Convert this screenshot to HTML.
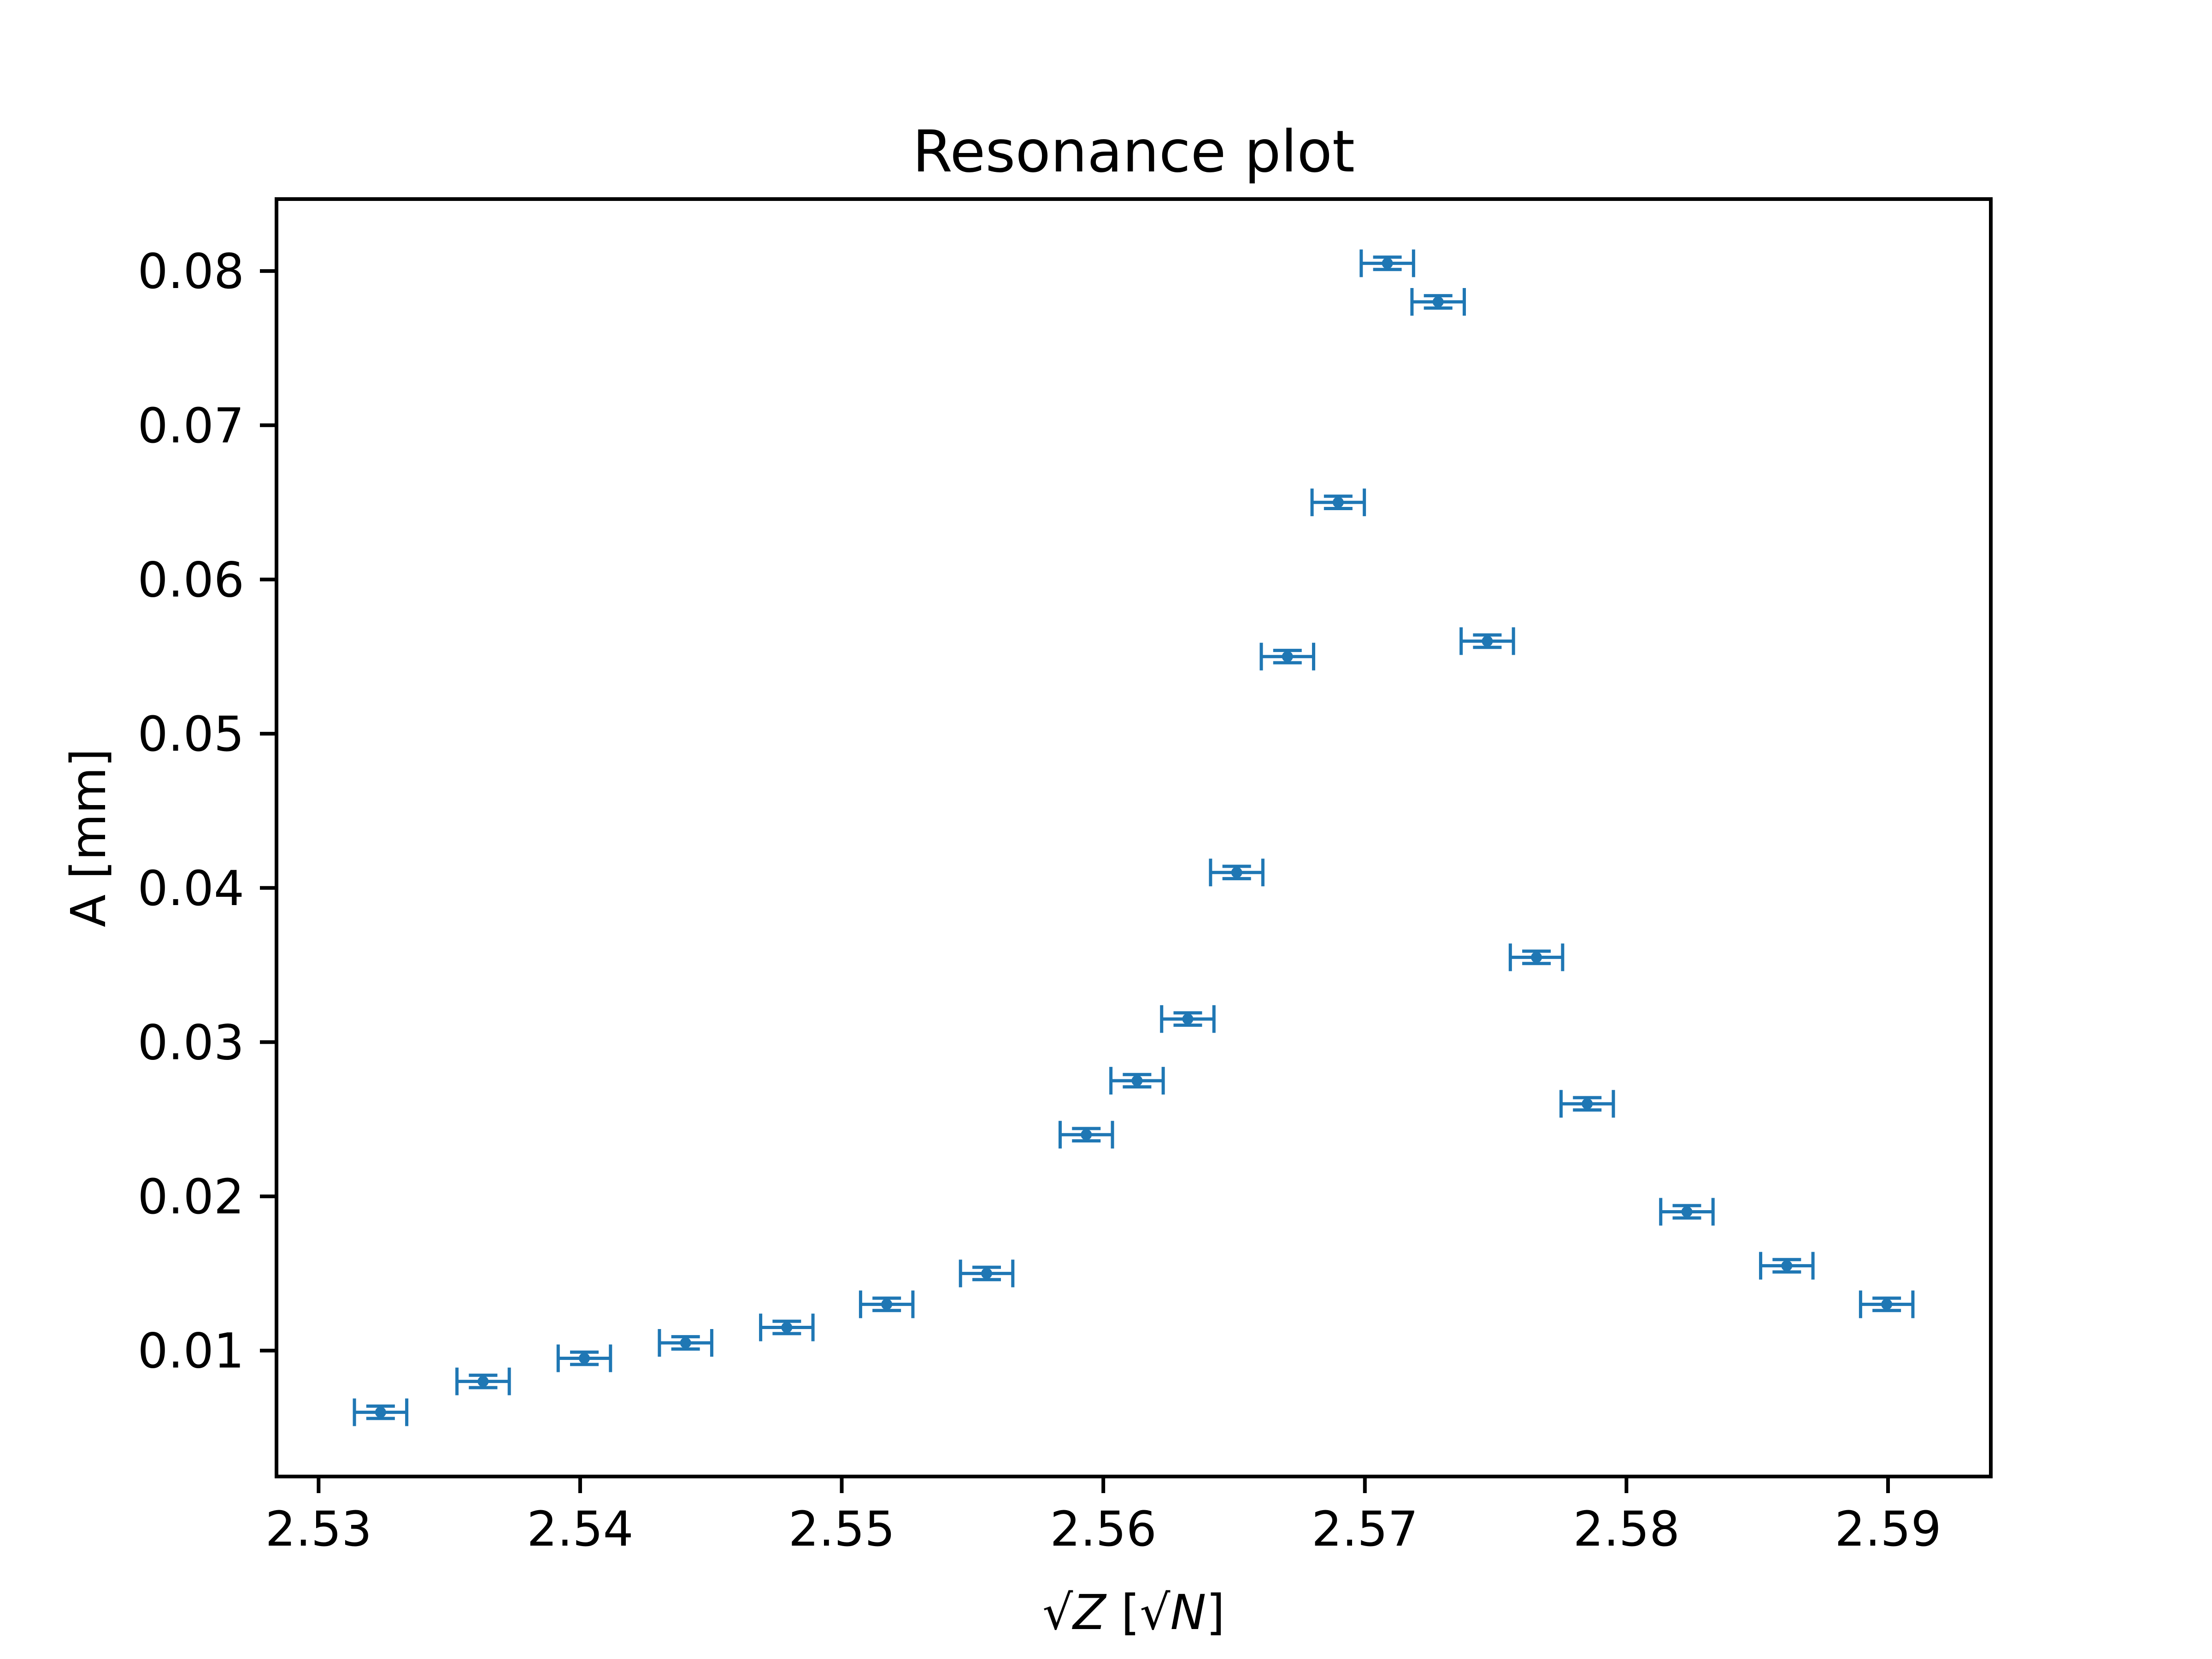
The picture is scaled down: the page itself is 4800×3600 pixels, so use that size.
<!DOCTYPE html>
<html><head><meta charset="utf-8"><style>
html,body{margin:0;padding:0;background:#fff}
svg{display:block}
text{font-family:"DejaVu Sans","Liberation Sans",sans-serif;fill:#000}
</style></head><body>
<svg id="chart" width="4800" height="3600" viewBox="0 0 4800 3600" xmlns="http://www.w3.org/2000/svg">
<rect width="4800" height="3600" fill="#fff"/>
<text x="2460" y="372" font-size="125" text-anchor="middle">Resonance plot</text>
<g id="plot"></g>
<text x="2460" y="3535" font-size="104" text-anchor="middle">√<tspan font-style="italic">Z</tspan> [√<tspan font-style="italic">N</tspan>]</text>
<text transform="translate(228,1818) rotate(-90)" font-size="104" text-anchor="middle">A [mm]</text>
</svg>
<script>
const xValues = [2.53237,2.53629,2.54016,2.54403,2.5479,2.55172,2.55554,2.55935,2.56129,2.56323,2.5651,2.56704,2.56898,2.57086,2.5728,2.57468,2.57656,2.5785,2.58231,2.58613,2.58995];
const yValues = [0.006,0.008,0.0095,0.0105,0.0115,0.013,0.015,0.024,0.0275,0.0315,0.041,0.055,0.065,0.0805,0.078,0.056,0.0355,0.026,0.019,0.0155,0.013];
const xErr = 0.001;
const yErr = 0.0004;
const xTicks = [2.53,2.54,2.55,2.56,2.57,2.58,2.59];
const yTicks = [0.01,0.02,0.03,0.04,0.05,0.06,0.07,0.08];

const L=600,R=4320,T=432,B=3204;
const NS='http://www.w3.org/2000/svg';
const xmin0=Math.min(...xValues)-xErr, xmax0=Math.max(...xValues)+xErr;
const ymin0=Math.min(...yValues)-yErr, ymax0=Math.max(...yValues)+yErr;
const xm=(xmax0-xmin0)*0.05, ym=(ymax0-ymin0)*0.05;
const X0=xmin0-xm, X1=xmax0+xm, Y0=ymin0-ym, Y1=ymax0+ym;
const sx=v=>L+(v-X0)/(X1-X0)*(R-L);
const sy=v=>B-(v-Y0)/(Y1-Y0)*(B-T);
const g=document.getElementById('plot');
function mk(tag,attrs){const e=document.createElementNS(NS,tag);for(const k in attrs)e.setAttribute(k,attrs[k]);g.appendChild(e);return e;}
const C='#1f77b4';
xValues.forEach((xv,i)=>{
  const cx=sx(xv), cy=sy(yValues[i]);
  const x1=sx(xv-xErr), x2=sx(xv+xErr), y1=sy(yValues[i]+yErr), y2=sy(yValues[i]-yErr);
  const grp=document.createElementNS(NS,'g');
  
  
  g.appendChild(grp);
  const parts=[
    ['line',{x1:x1,y1:cy,x2:x2,y2:cy,stroke:C,'stroke-width':7}],
    ['line',{x1:x1,y1:cy-30,x2:x1,y2:cy+30,stroke:C,'stroke-width':7}],
    ['line',{x1:x2,y1:cy-30,x2:x2,y2:cy+30,stroke:C,'stroke-width':7}],
    ['line',{x1:cx,y1:y1,x2:cx,y2:y2,stroke:C,'stroke-width':7}],
    ['line',{x1:cx-31,y1:y1,x2:cx+31,y2:y1,stroke:C,'stroke-width':7}],
    ['line',{x1:cx-31,y1:y2,x2:cx+31,y2:y2,stroke:C,'stroke-width':7}],
    ['circle',{cx:cx,cy:cy,r:12,fill:C}]
  ];
  parts.forEach(([t,a])=>{const e=document.createElementNS(NS,t);for(const k in a)e.setAttribute(k,a[k]);grp.appendChild(e);});
});
xTicks.forEach(t=>{
  const x=sx(t);
  const ln=mk('line',{x1:x,y1:B,x2:x,y2:B+36,stroke:'#000','stroke-width':8});
  
  
  const tx=mk('text',{x:x,y:B+150,'font-size':104,'text-anchor':'middle'});
  tx.textContent=t.toFixed(2);
  
  
});
yTicks.forEach(t=>{
  const y=sy(t);
  const ln=mk('line',{x1:L-36,y1:y,x2:L,y2:y,stroke:'#000','stroke-width':8});
  
  
  const tx=mk('text',{x:L-70,y:y+37,'font-size':104,'text-anchor':'end'});
  tx.textContent=t.toFixed(2);
  
  
});
const fr=mk('rect',{x:L,y:T,width:R-L,height:B-T,fill:'none',stroke:'#000','stroke-width':8});


</script>
</body></html>
